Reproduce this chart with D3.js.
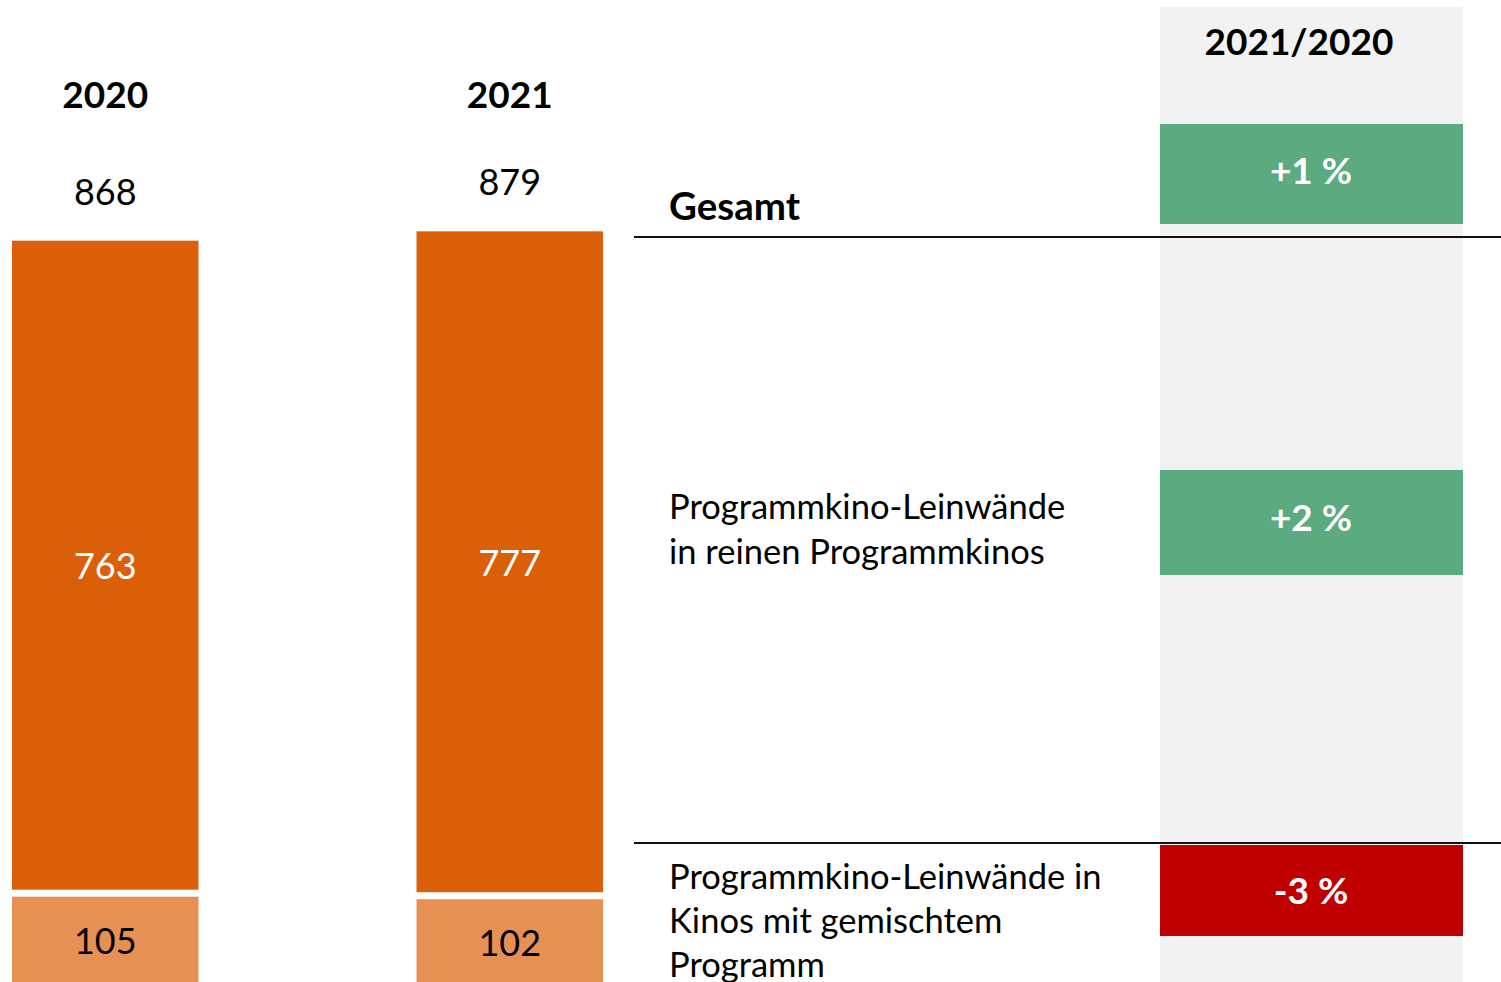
<!DOCTYPE html>
<html><head><meta charset="utf-8">
<script src="https://cdn.jsdelivr.net/npm/d3@7"></script>
<style>html,body{margin:0;padding:0;background:#fff;overflow:hidden}</style>
</head><body>
<svg id="c" width="1501" height="982"></svg>
<script>
// ---- data ----
const years = ["2020", "2021"];
const reinen = [763, 777];     // Programmkino-Leinwände in reinen Programmkinos
const gemischt = [105, 102];   // ... in Kinos mit gemischtem Programm
const totals = [868, 879];
const changeHeader = "2021/2020";
const changeLabels = ["+1 %", "+2 %", "-3 %"];
const changeSigns = ["pos", "pos", "neg"];
const rowLabels = [
  ["Gesamt"],
  ["Programmkino-Leinwände", "in reinen Programmkinos"],
  ["Programmkino-Leinwände in", "Kinos mit gemischtem", "Programm"]
];

// ---- layout / style ----
const FONT = "Lato, 'Open Sans', sans-serif";
const C_DARK = "#DB5F08", C_LIGHT = "#E69153", C_GREEN = "#5BAA80", C_RED = "#C00000", C_GREY = "#F2F2F2";
const svg = d3.select("#c");
const x = d3.scaleBand().domain(years).range([12, 603]).paddingInner(0.539).paddingOuter(0);
const y = d3.scaleLinear().domain([0, 1000]).range([986, 986 - 850.6]);
const GAP = 7;

// bars: lower segment (gemischt)
svg.selectAll("rect.low").data(years).join("rect")
  .attr("x", d => x(d)).attr("width", x.bandwidth())
  .attr("y", (d, i) => y(gemischt[i])).attr("height", (d, i) => y(0) - y(gemischt[i]))
  .attr("fill", C_LIGHT);
// upper segment (reinen)
svg.selectAll("rect.up").data(years).join("rect")
  .attr("x", d => x(d)).attr("width", x.bandwidth())
  .attr("y", (d, i) => y(gemischt[i] + reinen[i]) - GAP)
  .attr("height", (d, i) => y(gemischt[i]) - y(gemischt[i] + reinen[i]))
  .attr("fill", C_DARK);

const cx = d => x(d) + x.bandwidth() / 2;
// segment labels
svg.selectAll("text.low").data(years).join("text")
  .attr("x", cx).attr("y", (d, i) => (y(0) + y(gemischt[i])) / 2 - 1)
  .attr("text-anchor", "middle").attr("dominant-baseline", "central")
  .style("font-family", FONT).style("font-size", "36px").attr("fill", "#000")
  .text((d, i) => gemischt[i]);
svg.selectAll("text.up").data(years).join("text")
  .attr("x", cx).attr("y", (d, i) => (y(gemischt[i]) + y(gemischt[i] + reinen[i])) / 2 - GAP)
  .attr("text-anchor", "middle").attr("dominant-baseline", "central")
  .style("font-family", FONT).style("font-size", "36px").attr("fill", "#fff")
  .text((d, i) => reinen[i]);
// totals
svg.selectAll("text.tot").data(years).join("text")
  .attr("x", cx).attr("y", (d, i) => y(totals[i]) - GAP - 50)
  .attr("text-anchor", "middle").attr("dominant-baseline", "central")
  .style("font-family", FONT).style("font-size", "36px").attr("fill", "#000")
  .text((d, i) => totals[i]);
// years
svg.selectAll("text.yr").data(years).join("text")
  .attr("x", cx).attr("y", 93)
  .attr("text-anchor", "middle").attr("dominant-baseline", "central")
  .style("font-family", FONT).style("font-size", "37px").style("font-weight", "bold").attr("fill", "#000")
  .text(d => d);

// right panel
svg.append("rect").attr("x", 1160).attr("y", 7).attr("width", 303).attr("height", 975).attr("fill", C_GREY);
svg.append("text").attr("x", 1299).attr("y", 40)
  .attr("text-anchor", "middle").attr("dominant-baseline", "central")
  .style("font-family", FONT).style("font-size", "37px").style("font-weight", "bold").text(changeHeader);

const boxes = [[124, 224], [470, 575], [845, 936]];
const textOffsets = [-5, -6, -1];
const labelLines = [[205], [505, 550], [875, 919, 963]];
changeLabels.forEach((lab, i) => {
  const [b0, b1] = boxes[i];
  svg.append("rect").attr("x", 1160).attr("y", b0).attr("width", 303).attr("height", b1 - b0)
    .attr("fill", changeSigns[i] === "pos" ? C_GREEN : C_RED);
  svg.append("text").attr("x", 1311).attr("y", (b0 + b1) / 2 + textOffsets[i])
    .attr("text-anchor", "middle").attr("dominant-baseline", "central")
    .style("font-family", FONT).style("font-size", "37px").style("font-weight", "bold").attr("fill", "#fff")
    .text(lab);
  rowLabels[i].forEach((line, j) => {
    svg.append("text").attr("x", 669).attr("y", labelLines[i][j])
      .attr("dominant-baseline", "central")
      .style("font-family", FONT).style("font-size", i === 0 ? "38.5px" : "34.5px")
      .style("font-weight", i === 0 ? "bold" : "normal").attr("fill", "#000")
      .text(line);
  });
});
// separators
[237, 843].forEach(yy => {
  svg.append("line").attr("x1", 634).attr("x2", 1501).attr("y1", yy).attr("y2", yy)
    .attr("stroke", "#111").attr("stroke-width", 2);
});
</script>
</body></html>
